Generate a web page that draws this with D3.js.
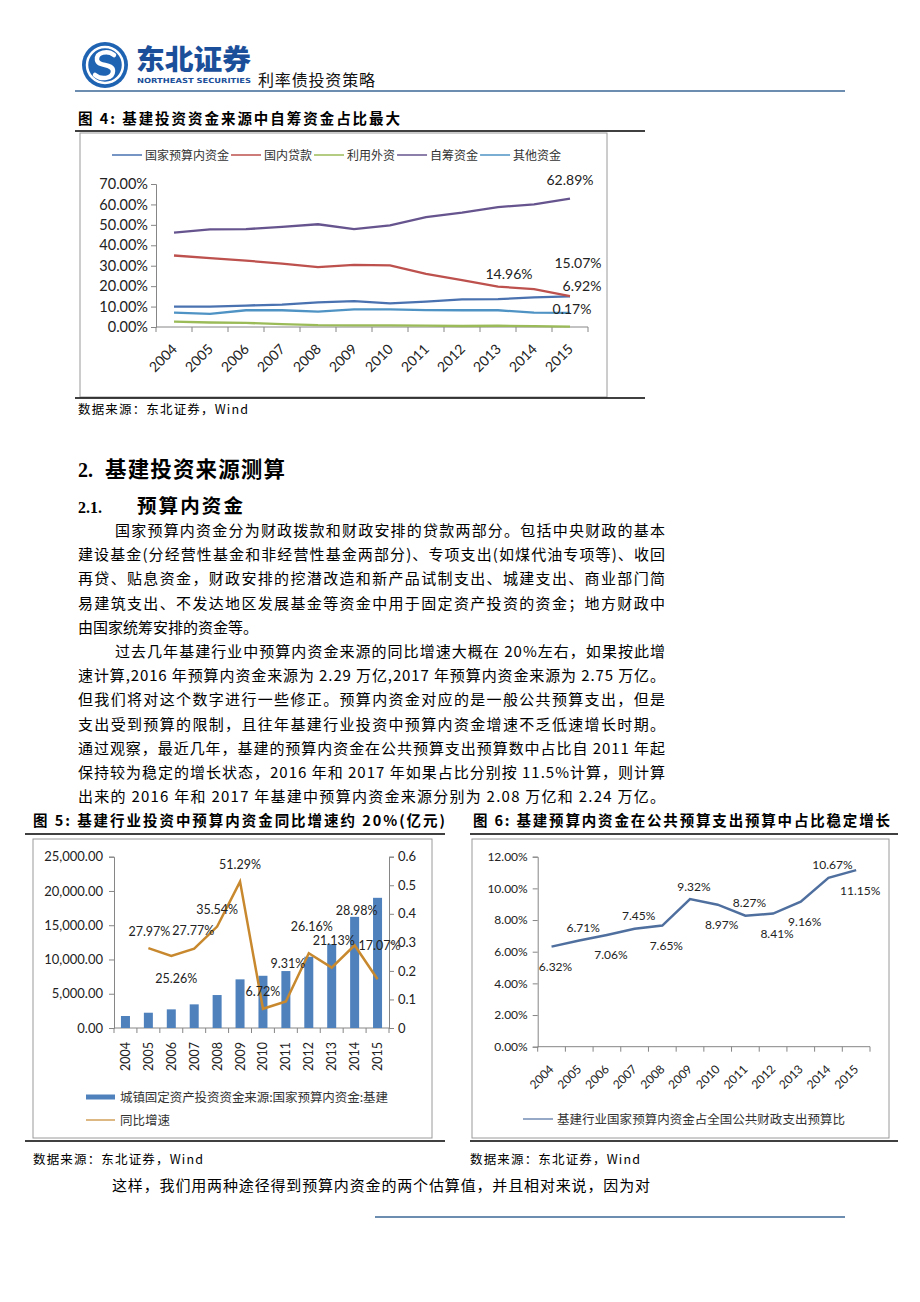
<!DOCTYPE html>
<html><head><meta charset="utf-8">
<script src="https://cdn.jsdelivr.net/npm/d3@7"></script>
<style>
body{margin:0;background:#fff;}
svg{display:block;}
</style></head><body>
<svg id="page" width="920" height="1302"></svg>
<script>
// ---------------- DATA ----------------
const years = ["2004","2005","2006","2007","2008","2009","2010","2011","2012","2013","2014","2015"];

// Figure 4: share of infrastructure investment funding sources (%)
const fig4SeriesNames = ["国家预算内资金","国内贷款","利用外资","自筹资金","其他资金"];
const fig4Budget   = [10.0, 10.0, 10.5, 11.0, 12.1, 12.7, 11.6, 12.4, 13.5, 13.6, 14.5, 14.96];
const fig4Loan     = [35.0, 33.7, 32.5, 31.0, 29.3, 30.4, 30.2, 26.0, 23.0, 19.8, 18.5, 15.07];
const fig4Foreign  = [2.6, 2.2, 2.0, 1.4, 0.9, 0.8, 0.8, 0.7, 0.5, 0.6, 0.4, 0.17];
const fig4SelfRaised = [46.2, 47.8, 47.9, 49.0, 50.3, 47.9, 49.7, 53.8, 56.0, 58.7, 60.0, 62.89];
const fig4Other    = [7.0, 6.4, 8.2, 8.2, 7.5, 8.6, 8.6, 8.3, 8.2, 8.2, 7.0, 6.92];
const fig4Ticks    = [0, 10, 20, 30, 40, 50, 60, 70];

// Figure 5: budget funds for infrastructure (亿元) and YoY growth
const fig5Names  = ["城镇固定资产投资资金来源:国家预算内资金:基建", "同比增速"];
const fig5Budget = [1750, 2230, 2720, 3450, 4810, 7100, 7620, 8310, 10400, 12240, 16220, 19000];
const fig5Growth = [null, 27.97, 25.26, 27.77, 35.54, 51.29, 6.72, 9.31, 26.16, 21.13, 28.98, 17.07];
const fig5LeftTicks  = [0, 5000, 10000, 15000, 20000, 25000];
const fig5RightTicks = [0, 0.1, 0.2, 0.3, 0.4, 0.5, 0.6];

// Figure 6: ratio of infrastructure budget funds to national public budget expenditure (%)
const fig6Name  = "基建行业国家预算内资金占全国公共财政支出预算比";
const fig6Ratio = [6.32, 6.71, 7.06, 7.45, 7.65, 9.32, 8.97, 8.27, 8.41, 9.16, 10.67, 11.15];
const fig6Ticks = [0, 2, 4, 6, 8, 10, 12];

// ---------------- LAYOUT (label placement) ----------------
const fig4LabelOffsets = [ // [seriesIndex, dx, dy] for the 2015 labels
  [3, 0, -19], [1, 8, -33], [0, -61, -22], [4, 12, -27], [2, 2, -18]
];
const fig5LabelOffsets = [null,[1,-17],[5,23],[-1,-18],[0,-17],[0,-17],[0,-17],[2,-38],[3,-27],[2,-27],[2,-35],[2,-34]];
const fig6LabelPos = ["below","above","below","above","below","above","below","above","below","below","above","below"];

const CJK = "'Noto Sans CJK SC', sans-serif";
const NUM = "Lato, 'Open Sans', sans-serif";
const svg = d3.select("#page");

// ---------------- HEADER ----------------
const hdr = svg.append("g");
hdr.append("circle").attr("cx",105).attr("cy",65).attr("r",23).attr("fill","#1f63b3");
hdr.append("circle").attr("cx",105).attr("cy",65).attr("r",18).attr("fill","none").attr("stroke","#fff").attr("stroke-width",2.5);
hdr.append("path").attr("d","M114,55 C108,50 96,52 97,60 C98,67 113,63 113,71 C113,79 101,80 95,75")
  .attr("fill","none").attr("stroke","#fff").attr("stroke-width",4.5).attr("stroke-linecap","round");
hdr.append("text").attr("x",136).attr("y",70).attr("font-family",CJK).attr("font-weight",900)
  .attr("font-size",28).attr("fill","#1b4f9a").attr("textLength",115).attr("lengthAdjust","spacingAndGlyphs").text("东北证券");
hdr.append("text").attr("x",137).attr("y",83).attr("font-family","'DejaVu Sans', sans-serif").attr("font-weight","bold")
  .attr("font-size",7).attr("fill","#1b4f9a").attr("textLength",114).attr("lengthAdjust","spacingAndGlyphs").text("NORTHEAST SECURITIES");
hdr.append("text").attr("x",258).attr("y",86).attr("font-family",CJK).attr("font-size",16).attr("fill","#111")
  .attr("textLength",117).text("利率债投资策略");
hdr.append("line").attr("x1",75).attr("x2",845).attr("y1",91).attr("y2",91).attr("stroke","#6d8db0").attr("stroke-width",2);

// footer line
svg.append("line").attr("x1",375).attr("x2",845).attr("y1",1217).attr("y2",1217).attr("stroke","#6d8db0").attr("stroke-width",2);

// ---------------- helpers ----------------
function txt(x,y,s,opt={}) {
  const t = svg.append("text").attr("x",x).attr("y",y).text(s)
    .attr("font-family", opt.family || CJK).attr("font-size", opt.size || 15)
    .attr("fill", opt.fill || "#000");
  if (opt.bold) t.attr("font-weight","bold");
  if (opt.len) t.attr("textLength",opt.len).attr("lengthAdjust","spacing");
  if (opt.anchor) t.attr("text-anchor",opt.anchor);
  return t;
}
function rule(x1,x2,y,w=1.5){ svg.append("line").attr("x1",x1).attr("x2",x2).attr("y1",y).attr("y2",y).attr("stroke","#000").attr("stroke-width",w); }

// ---------------- FIGURE 4 ----------------
txt(78,124,"图 4: 基建投资资金来源中自筹资金占比最大",{bold:true,size:14.5,len:322});
rule(75,645,131);
svg.append("rect").attr("x",80).attr("y",133).attr("width",527).attr("height",264).attr("fill","#fff").attr("stroke","#9a9a9a");
rule(75,645,398);

{
  const g = svg.append("g");
  const x = d3.scaleBand().domain(years).range([156,588]);
  const y = d3.scaleLinear().domain([0,70]).range([327,184]);
  const series = [fig4Budget, fig4Loan, fig4Foreign, fig4SelfRaised, fig4Other];
  const colors = ["#4a72b0","#bd514d","#9bbb59","#66548e","#4f93c4"];
  const ya = g.append("g").attr("transform","translate(156,0)")
    .call(d3.axisLeft(y).tickValues(fig4Ticks).tickSize(5).tickPadding(3).tickFormat(d=>d3.format(".2f")(d)+"%"));
  ya.select(".domain").attr("stroke","#868686");
  ya.selectAll(".tick line").attr("stroke","#868686");
  ya.selectAll("text").attr("font-family",NUM).attr("font-size",14.5).attr("fill","#222");
  g.append("line").attr("x1",156).attr("x2",588).attr("y1",327).attr("y2",327).attr("stroke","#868686");
  g.selectAll(".xt").data(d3.range(years.length+1)).join("line")
    .attr("x1",i=>156+i*x.bandwidth()).attr("x2",i=>156+i*x.bandwidth())
    .attr("y1",327).attr("y2",332).attr("stroke","#868686");
  g.selectAll(".xl").data(years).join("text")
    .attr("transform",d=>`translate(${x(d)+x.bandwidth()/2+4},350) rotate(-45)`)
    .attr("text-anchor","end").attr("font-family",NUM).attr("font-size",14).attr("fill","#222").text(d=>d);
  const line = d3.line().x((d,i)=>x(years[i])+x.bandwidth()/2).y(d=>y(d));
  series.forEach((s,k)=>{
    g.append("path").datum(s).attr("d",line).attr("fill","none").attr("stroke",colors[k]).attr("stroke-width",2.3);
  });
  fig4LabelOffsets.forEach(([k,dx,dy])=>{
    const v = series[k][years.length-1];
    g.append("text").attr("x",x(years[years.length-1])+x.bandwidth()/2+dx).attr("y",y(v)+dy+5)
      .attr("text-anchor","middle").attr("font-family",NUM).attr("font-size",14).attr("fill","#222")
      .text(d3.format(".2f")(v)+"%");
  });
  let lx = 112;
  fig4SeriesNames.forEach((n,k)=>{
    g.append("line").attr("x1",lx).attr("x2",lx+30).attr("y1",155).attr("y2",155).attr("stroke",colors[k]).attr("stroke-width",1.5);
    const t = g.append("text").attr("x",lx+33).attr("y",159.5).attr("font-family",CJK).attr("font-size",12).attr("fill","#333").text(n);
    lx += 33 + t.node().getComputedTextLength() + 2;
  });
}
txt(78,414,"数据来源：东北证券，Wind",{size:12.5,len:170});

// ---------------- TEXT ----------------
txt(78,477,"2.",{bold:true,size:20,family:"'Liberation Serif', serif"});
txt(105,477,"基建投资来源测算",{bold:true,size:21.5,len:180});
txt(78,513,"2.1.",{bold:true,size:16,family:"'Liberation Serif', serif"});
txt(137,513,"预算内资金",{bold:true,size:19.5,len:106});

const bodyLines = [
  [115,"国家预算内资金分为财政拨款和财政安排的贷款两部分。包括中央财政的基本",true],
  [78,"建设基金(分经营性基金和非经营性基金两部分)、专项支出(如煤代油专项等)、收回",true],
  [78,"再贷、贴息资金，财政安排的挖潜改造和新产品试制支出、城建支出、商业部门简",true],
  [78,"易建筑支出、不发达地区发展基金等资金中用于固定资产投资的资金；地方财政中",true],
  [78,"由国家统筹安排的资金等。",false],
  [115,"过去几年基建行业中预算内资金来源的同比增速大概在 20%左右，如果按此增",true],
  [78,"速计算,2016 年预算内资金来源为 2.29 万亿,2017 年预算内资金来源为 2.75 万亿。",true],
  [78,"但我们将对这个数字进行一些修正。预算内资金对应的是一般公共预算支出，但是",true],
  [78,"支出受到预算的限制，且往年基建行业投资中预算内资金增速不乏低速增长时期。",true],
  [78,"通过观察，最近几年，基建的预算内资金在公共预算支出预算数中占比自 2011 年起",true],
  [78,"保持较为稳定的增长状态，2016 年和 2017 年如果占比分别按 11.5%计算，则计算",true],
  [78,"出来的 2016 年和 2017 年基建中预算内资金来源分别为 2.08 万亿和 2.24 万亿。",true]
];
bodyLines.forEach(([x0,s,j],i)=>{
  txt(x0,536+i*24.2,s,{size:15,len: j ? 665-x0 : null});
});

// ---------------- FIGURE 5 ----------------
txt(33,826,"图 5: 基建行业投资中预算内资金同比增速约 20%(亿元)",{bold:true,size:14.5,len:412});
rule(25,445,834);
svg.append("rect").attr("x",33).attr("y",839).attr("width",399).attr("height",299).attr("fill","#fff").attr("stroke","#9a9a9a");
{
  const g = svg.append("g");
  const x = d3.scaleBand().domain(years).range([114,389]);
  const yL = d3.scaleLinear().domain([0,25000]).range([1028,856.7]);
  const yR = d3.scaleLinear().domain([0,0.6]).range([1028,856.7]);
  const la = g.append("g").attr("transform","translate(114,0)")
    .call(d3.axisLeft(yL).tickValues(fig5LeftTicks).tickSize(5).tickPadding(6).tickFormat(d3.format(",.2f")));
  const ra = g.append("g").attr("transform","translate(389,0)")
    .call(d3.axisRight(yR).tickValues(fig5RightTicks).tickSize(5).tickPadding(4).tickFormat(d=>d===0?"0":d3.format(".1f")(d)));
  [la,ra].forEach(a=>{
    a.select(".domain").attr("stroke","#868686");
    a.selectAll(".tick line").attr("stroke","#868686");
    a.selectAll("text").attr("font-family",NUM).attr("font-size",13).attr("fill","#222");
  });
  g.append("line").attr("x1",114).attr("x2",389).attr("y1",1028).attr("y2",1028).attr("stroke","#868686");
  g.selectAll(".xt").data(d3.range(years.length+1)).join("line")
    .attr("x1",i=>114+i*x.bandwidth()).attr("x2",i=>114+i*x.bandwidth())
    .attr("y1",1028).attr("y2",1033).attr("stroke","#868686");
  g.selectAll(".bar").data(fig5Budget).join("rect")
    .attr("x",(d,i)=>x(years[i])+x.bandwidth()/2-4.5).attr("width",9)
    .attr("y",d=>yL(d)).attr("height",d=>1028-yL(d)).attr("fill","#4f81bd");
  const pts = fig5Growth.map((v,i)=>[i,v]).filter(p=>p[1]!==null);
  g.append("path").datum(pts)
    .attr("d",d3.line().x(p=>x(years[p[0]])+x.bandwidth()/2).y(p=>yR(p[1]/100)))
    .attr("fill","none").attr("stroke","#c8892e").attr("stroke-width",2.5);
  pts.forEach(([i,v])=>{
    const [dx,dy] = fig5LabelOffsets[i];
    g.append("text").attr("x",x(years[i])+x.bandwidth()/2+dx).attr("y",yR(v/100)+dy+4.5)
      .attr("text-anchor","middle").attr("font-family",NUM).attr("font-size",12.5).attr("fill","#222")
      .text(d3.format(".2f")(v)+"%");
  });
  g.selectAll(".xl").data(years).join("text")
    .attr("transform",d=>`translate(${x(d)+x.bandwidth()/2+4.5},1042) rotate(-90)`)
    .attr("text-anchor","end").attr("font-family",NUM).attr("font-size",12.5).attr("fill","#222").text(d=>d);
  g.append("rect").attr("x",86).attr("y",1094.5).attr("width",29).attr("height",5).attr("fill","#4f81bd");
  g.append("text").attr("x",120).attr("y",1101.5).attr("font-family",CJK).attr("font-size",12.5).attr("fill","#333")
    .attr("textLength",268).attr("lengthAdjust","spacing").text(fig5Names[0]);
  g.append("line").attr("x1",86).attr("x2",115).attr("y1",1120).attr("y2",1120).attr("stroke","#c8892e").attr("stroke-width",1.2);
  g.append("text").attr("x",120).attr("y",1124.5).attr("font-family",CJK).attr("font-size",12.5).attr("fill","#333").text(fig5Names[1]);
}
rule(25,445,1141);
txt(33,1164,"数据来源：东北证券，Wind",{size:12.5,len:170});

// ---------------- FIGURE 6 ----------------
txt(473,826,"图 6: 基建预算内资金在公共预算支出预算中占比稳定增长",{bold:true,size:14.5,len:417});
rule(470,898,834);
svg.append("rect").attr("x",472).attr("y",839).attr("width",417).attr("height",299).attr("fill","#fff").attr("stroke","#9a9a9a");
{
  const g = svg.append("g");
  const x = d3.scaleBand().domain(years).range([537.7,870]);
  const y = d3.scaleLinear().domain([0,12]).range([1046.7,856.7]);
  const ya = g.append("g").attr("transform","translate(537.7,0)")
    .call(d3.axisLeft(y).tickValues(fig6Ticks).tickSize(5).tickPadding(5).tickFormat(d=>d3.format(".2f")(d)+"%"));
  ya.select(".domain").attr("stroke","#868686");
  ya.selectAll(".tick line").attr("stroke","#868686");
  ya.selectAll("text").attr("font-family",NUM).attr("font-size",12).attr("fill","#222");
  g.append("line").attr("x1",537.7).attr("x2",870).attr("y1",1046.7).attr("y2",1046.7).attr("stroke","#868686");
  g.selectAll(".xt").data(d3.range(years.length+1)).join("line")
    .attr("x1",i=>537.7+i*x.bandwidth()).attr("x2",i=>537.7+i*x.bandwidth())
    .attr("y1",1046.7).attr("y2",1051.7).attr("stroke","#868686");
  g.selectAll(".xl").data(years).join("text")
    .attr("transform",d=>`translate(${x(d)+x.bandwidth()/2+3},1070) rotate(-45)`)
    .attr("text-anchor","end").attr("font-family",NUM).attr("font-size",12).attr("fill","#222").text(d=>d);
  g.append("path").datum(fig6Ratio)
    .attr("d",d3.line().x((d,i)=>x(years[i])+x.bandwidth()/2).y(d=>y(d)))
    .attr("fill","none").attr("stroke","#4f6f9f").attr("stroke-width",2.5);
  g.selectAll(".lbl").data(fig6Ratio).join("text")
    .attr("x",(d,i)=>x(years[i])+x.bandwidth()/2+4)
    .attr("y",(d,i)=>y(d)+(fig6LabelPos[i]==="above"? -13 : 20)+4.5)
    .attr("text-anchor","middle").attr("font-family",NUM).attr("font-size",12).attr("fill","#222")
    .text(d=>d3.format(".2f")(d)+"%");
  g.append("line").attr("x1",523).attr("x2",553).attr("y1",1119).attr("y2",1119).attr("stroke","#4f6f9f").attr("stroke-width",1.2);
  g.append("text").attr("x",557).attr("y",1123.5).attr("font-family",CJK).attr("font-size",12.5).attr("fill","#333")
    .attr("textLength",288).attr("lengthAdjust","spacing").text(fig6Name);
}
rule(470,898,1141);
txt(470,1164,"数据来源：东北证券，Wind",{size:12.5,len:170});

txt(112,1191,"这样，我们用两种途径得到预算内资金的两个估算值，并且相对来说，因为对",{size:15,len:538});
</script>
</body></html>
